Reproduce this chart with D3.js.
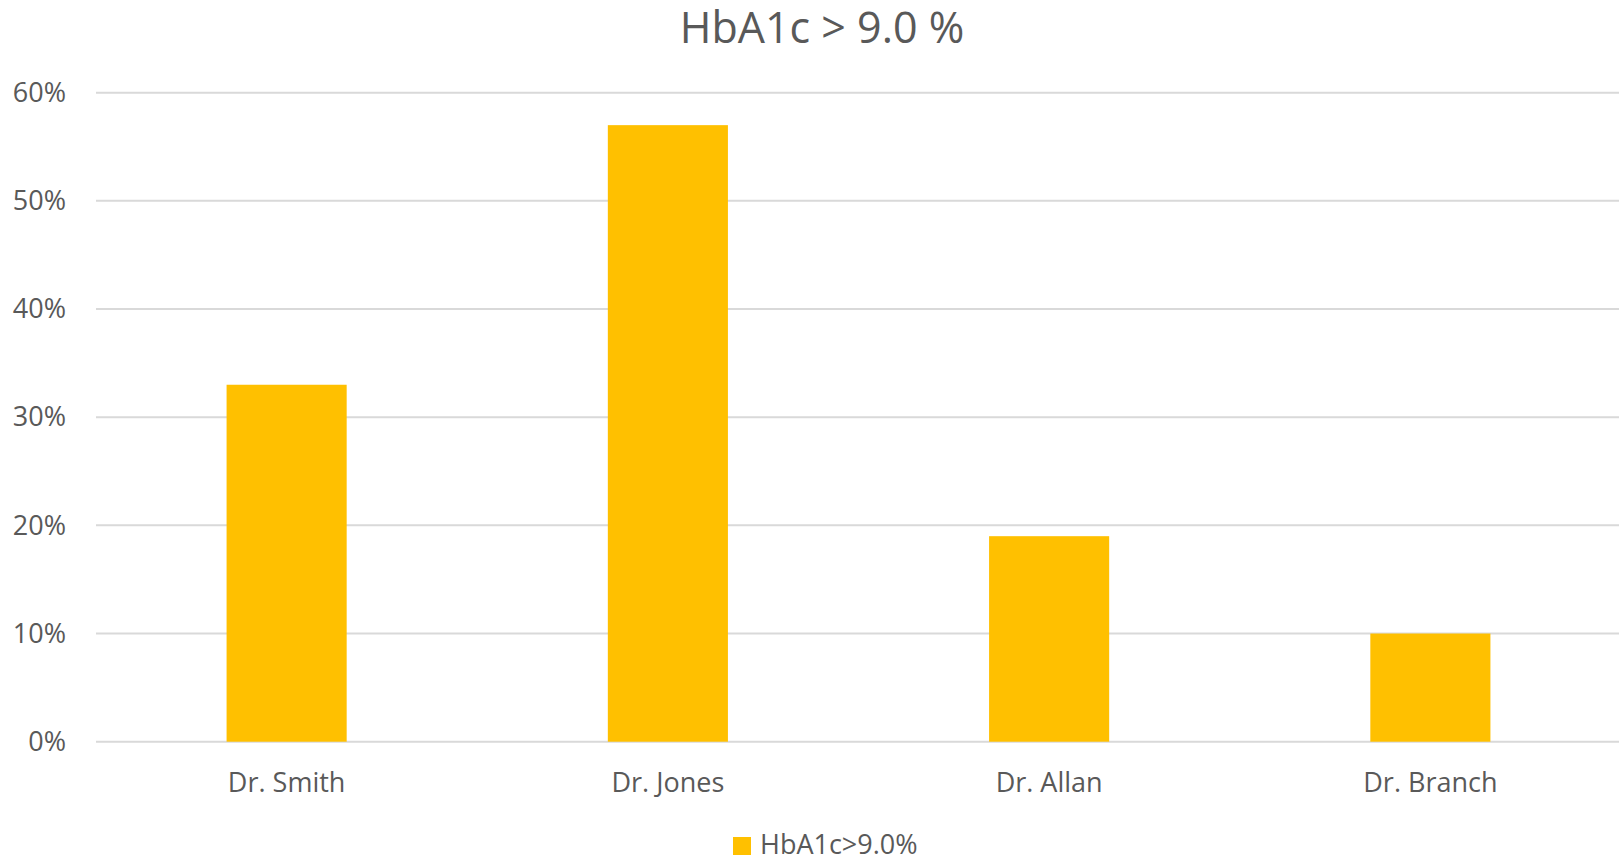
<!DOCTYPE html>
<html>
<head>
<meta charset="utf-8">
<script src="https://cdn.jsdelivr.net/npm/d3@7"></script>
<style>
	body { margin: 0; background: #fff; }
	svg { display: block; font-family: "Open Sans", sans-serif; }
</style>
</head>
<body>
<div class="thegraph"></div>
<script>
var title = "HbA1c > 9.0 %";
var seriesName = "HbA1c>9.0%";
var doctors = ["Dr. Smith", "Dr. Jones", "Dr. Allan", "Dr. Branch"];
var values = [0.33, 0.57, 0.19, 0.10];
var yTicks = [0, 0.1, 0.2, 0.3, 0.4, 0.5, 0.6];

var w = 1619;
var h = 859;
var plotLeft = 96, plotRight = 1621, plotTop = 92.7, plotBottom = 741.7;

var svg = d3.select(".thegraph").append("svg")
	.attr("width", w)
	.attr("height", h);

var x = d3.scaleBand()
	.domain(doctors)
	.range([plotLeft, plotRight])
	.paddingInner(0.685)
	.paddingOuter(0.3425);

var y = d3.scaleLinear()
	.domain([0, 0.6])
	.range([plotBottom, plotTop]);

// gridlines
svg.append("g")
	.selectAll("line")
	.data(yTicks)
	.enter()
	.append("line")
	.attr("x1", plotLeft)
	.attr("x2", w)
	.attr("y1", function(d) { return y(d); })
	.attr("y2", function(d) { return y(d); })
	.attr("stroke", "#d9d9d9")
	.attr("stroke-width", 2);

// y axis labels
var yAxis = d3.axisLeft(y)
	.tickValues(yTicks)
	.tickFormat(d3.format(".0%"))
	.tickSize(0)
	.tickPadding(0);
var ya = svg.append("g")
	.attr("transform", "translate(66,0)")
	.call(yAxis);
ya.select(".domain").remove();
ya.selectAll("text")
	.attr("font-family", "Open Sans")
	.attr("font-size", "27px")
	.attr("fill", "#595959");

// bars
svg.selectAll("rect.bar")
	.data(values)
	.enter()
	.append("rect")
	.attr("class", "bar")
	.attr("x", function(d, i) { return x(doctors[i]); })
	.attr("y", function(d) { return y(d); })
	.attr("width", x.bandwidth())
	.attr("height", function(d) { return plotBottom - y(d); })
	.attr("fill", "#ffc000");

// x axis labels
var xAxis = d3.axisBottom(x).tickSize(0).tickPadding(0);
var xa = svg.append("g")
	.attr("transform", "translate(0," + plotBottom + ")")
	.call(xAxis);
xa.select(".domain").remove();
xa.selectAll("text")
	.attr("dy", null)
	.attr("y", 50.6)
	.attr("font-family", "Open Sans")
	.attr("font-size", "27px")
	.attr("fill", "#595959");

// title
svg.append("text")
	.attr("x", 822)
	.attr("y", 43.3)
	.attr("text-anchor", "middle")
	.attr("font-size", "43px")
	.attr("fill", "#595959")
	.text(title);

// legend
svg.append("rect")
	.attr("x", 733)
	.attr("y", 837)
	.attr("width", 18)
	.attr("height", 18)
	.attr("fill", "#ffc000");
svg.append("text")
	.attr("x", 760)
	.attr("y", 854)
	.attr("font-size", "27px")
	.attr("fill", "#595959")
	.text(seriesName);
</script>
</body>
</html>
